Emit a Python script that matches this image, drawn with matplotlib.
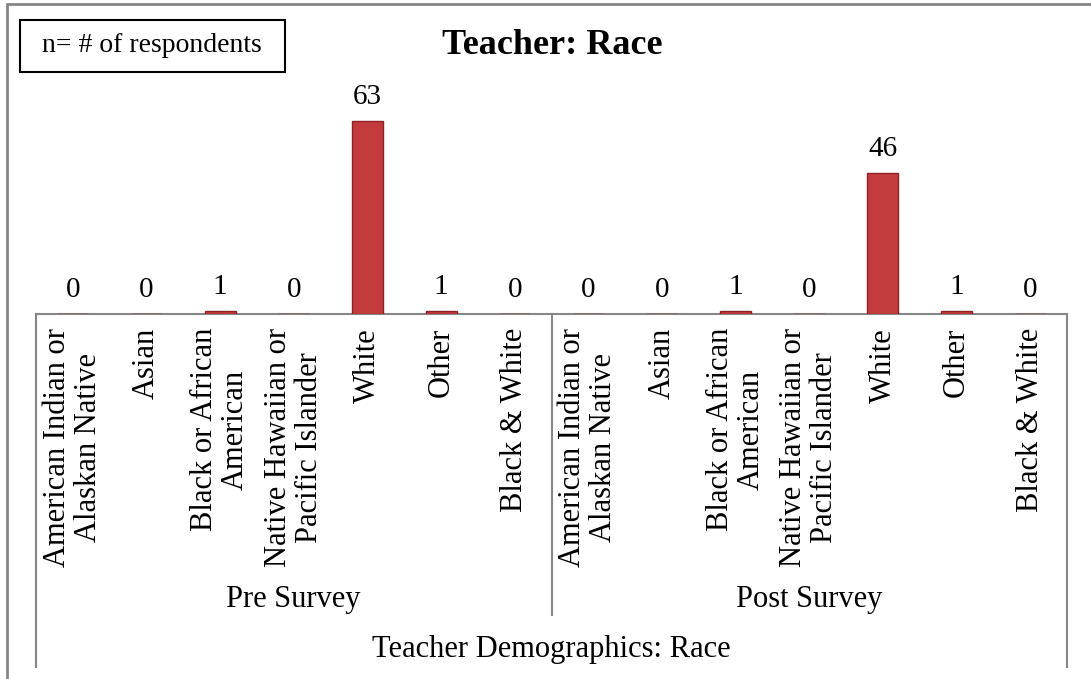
import numpy as np
import matplotlib
matplotlib.use("Agg")
from matplotlib import pyplot as plt
from matplotlib.patches import Rectangle
from matplotlib.transforms import blended_transform_factory

plt.rcParams['font.family'] = ['Liberation Serif', 'DejaVu Serif']

# data
categories = [
    "American Indian or\nAlaskan Native",
    "Asian",
    "Black or African\nAmerican",
    "Native Hawaiian or\nPacific Islander",
    "White",
    "Other",
    "Black & White",
]
groups = ["Pre Survey", "Post Survey"]
pre_values = [0, 0, 1, 0, 63, 1, 0]
post_values = [0, 0, 1, 0, 46, 1, 0]
axis_title = "Teacher Demographics: Race"
chart_title = "Teacher: Race"
note_text = "n= # of respondents"

W, H = 1091, 679
fig = plt.figure(figsize=(W / 100, H / 100), dpi=100)

# plot area in pixels
left_px, right_px, top_px, base_px = 36, 1067, 60, 314
ax = fig.add_axes([left_px / W, 1 - base_px / H,
                   (right_px - left_px) / W, (base_px - top_px) / H])

values = pre_values + post_values
labels = categories + categories
x = np.arange(len(values))

ax.bar(x, values, width=0.42, color="#C43B3D", edgecolor="#8E2224",
       linewidth=1.0, zorder=3)
for xi, v in zip(x, values):
    ax.annotate(str(v), (xi, v), xytext=(0, 8), textcoords="offset points",
                ha="center", va="bottom", fontsize=21)

ax.set_xlim(-0.5, len(values) - 0.5)
ax.set_ylim(0, 83)
ax.set_yticks([])
for s in ["left", "right", "top"]:
    ax.spines[s].set_visible(False)
ax.spines["bottom"].set_color("#868686")
ax.spines["bottom"].set_linewidth(1.5)

ax.set_xticks(x)
ax.set_xticklabels(labels, rotation=90, fontsize=22, va="top", ha="center",
                   multialignment="center", linespacing=1.1)
ax.tick_params(axis="x", length=0, pad=10)

# group separators and labels
trans = blended_transform_factory(ax.transData, fig.transFigure)
n = len(categories)
sep_style = dict(color="#868686", linewidth=1.5, transform=trans, clip_on=False)
ax.plot([-0.5, -0.5], [1 - base_px / H, 1 - 667 / H], **sep_style)
ax.plot([n - 0.5, n - 0.5], [1 - base_px / H, 1 - 615 / H], **sep_style)
ax.plot([2 * n - 0.5, 2 * n - 0.5], [1 - base_px / H, 1 - 667 / H], **sep_style)
for i, g in enumerate(groups):
    ax.text(i * n + (n - 1) / 2, 1 - 599 / H, g, transform=trans,
            ha="center", va="center", fontsize=22)
ax.text(n - 0.5, 1 - 650 / H, axis_title, transform=trans,
        ha="center", va="center", fontsize=22)

# outer frame
fig.patches.append(Rectangle((7 / W, -0.1), 1.2, 1.1 - 4 / H, transform=fig.transFigure,
                             fill=False, edgecolor="#868686", linewidth=2))

# note box and title
fig.patches.append(Rectangle((20 / W, 1 - 72 / H), 265 / W, 52 / H,
                             transform=fig.transFigure, fill=False,
                             edgecolor="black", linewidth=1.5))
fig.text(152 / W, 1 - 46 / H, note_text, ha="center", va="center", fontsize=20)
fig.text(552 / W, 1 - 45 / H, chart_title, ha="center", va="center",
         fontsize=26, fontweight="bold")

fig.savefig("out.png", dpi=100)
